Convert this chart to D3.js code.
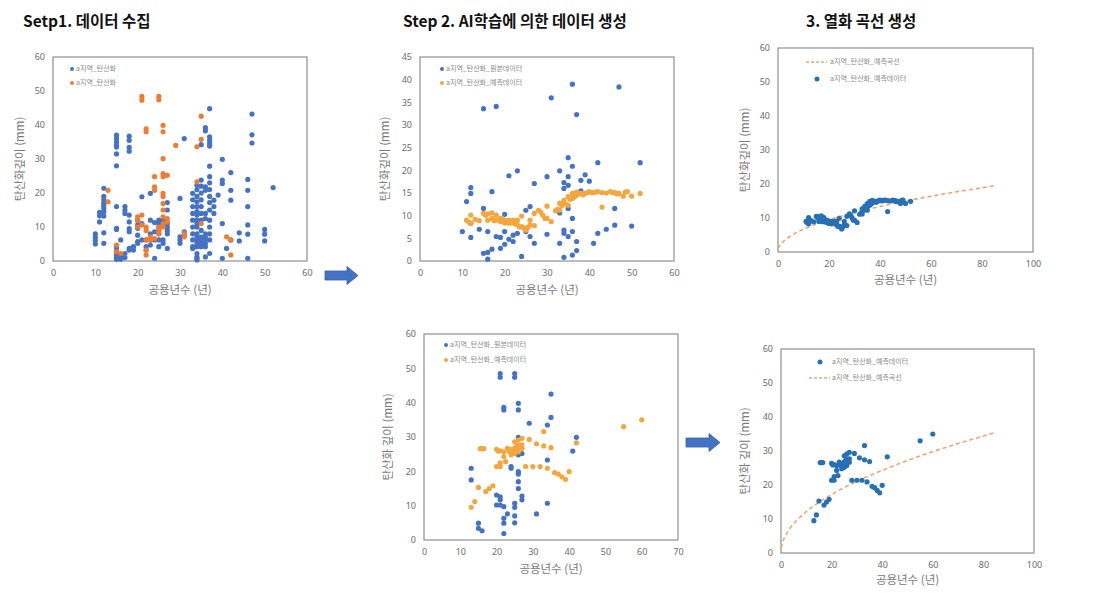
<!DOCTYPE html>
<html><head><meta charset="utf-8">
<script src="https://cdn.jsdelivr.net/npm/d3@7"></script>
<style>
body{margin:0;background:#fff;}
svg{display:block;font-family:"Noto Sans CJK KR","Noto Sans",sans-serif;}
</style></head>
<body><svg id="c" width="1098" height="593"></svg>
<script>
// ---------- DATA ----------
const titles = ["Setp1. 데이터 수집", "Step 2. AI학습에 의한 데이터 생성", "3. 열화 곡선 생성"];
const xLabel = "공용년수 (년)";
const yLabelA = "탄산화깊이 (mm)";
const yLabelB = "탄산화 깊이 (mm)";
const legend1 = ["a지역_탄산화", "a지역_탄산화"];
const legend2 = ["a지역_탄산화_원본데이터", "a지역_탄산화_예측데이터"];
const legend3 = ["a지역_탄산화_예측곡선", "a지역_탄산화_예측데이터"];

const ticks60 = [0,10,20,30,40,50,60];
const ticks45 = [0,5,10,15,20,25,30,35,40,45];
const ticks70 = [0,10,20,30,40,50,60,70];
const ticks100 = [0,20,40,60,80,100];

// Step 1 (grouped by age: [age, [depths...]])
const step1Blue = [
 [10,[8,7,6,5]],[11,[14.3,13.3,11.5]],[12,[21.4,19,18,17,16.2,15.5,14.5,13.2,8.3,5.2]],
 [15,[37,36,35,34,33.5,31.5,28,16,9.6,9.3,4,3,2,1.5,1,0.5]],[16,[6.2,2,1,0.5]],
 [17,[16,15,14,2.2,1]],[18,[36.7,35.5,33.4,32.3,13.5,11.5,9.5,8.6,3.7,3.2]],[19,[4.2,3.2]],
 [20,[12,10.6,9.6,7.6,5.7,5.2]],[21,[18.9,11,6.2]],[22,[6.2,4.2,3.2]],[23,[19.9,12,8,6.2,4.7]],
 [24,[11.3,8.6,6.2,0.8]],[25,[12,11,10,9,8,6.2,4.2]],[26,[12,11.5,6.2,5.2]],
 [27,[17.2,15,11,10,9,8,3.7]],[30,[18.4,7.1,6.2,5.2]],[31,[36,8.6,7.6]],
 [33,[19.9,18,16,14,12,10,8,6.2,4.2,3.7]],
 [34,[22.3,21,19,17.4,16,14.5,13.5,12,11,10,8,7,6.2,5.2,4.2,2.2,1.2,0.8,0.3]],
 [35,[34.2,23.8,22,20,18,16,14,12,9,7,6.2,5.7,5,4.2]],
 [36,[39.2,38.3,21.8,20.8,14,12.5,8,7,6.2,5.2,4.2,1.2]],
 [37,[44.8,36.5,35.5,34.5,33.8,27.9,24.8,23,21,19,17.2,15,12,10,8,6.2,2.2]],
 [38,[17.9,16,14]],[39,[19.4]],[40,[29.9,23.8,22.8,11,0.8]],[41,[3.7]],[42,[26,20.8,17.9,6.2]],
 [44,[8.3,5.9]],[46,[24,20.8,16,10.6,7.9,0.8]],[47,[43.2,37.1,34.7]],[50,[9.3,7.9,5.9]],[52,[21.6]]
];
const step1Orange = [
 [13,[20.8,17.4]],[15,[4.7,2.7]],[16,[2.2]],[20,[13,12,10]],[21,[48.4,47.3,13.5,10.6]],
 [22,[38.9,38,10,9,6.2,3.2,1.8]],[23,[7.1,6.2]],[24,[24.8,21.8,20.8,6.6]],[25,[48.4,47.4,10,9,8.1]],
 [26,[39.9,38,30.1,25.7,24.8,19.9,19,16.9,15,13,11,10]],[27,[25.2,12.5,11.5]],[29,[34]],
 [31,[8.1,7.1]],[34,[33.6,23.3]],[35,[42.6,35.8,11]],[41,[7.1]],[42,[6.2,1.8]]
];

// Step 2 top: original (blue) and predicted (orange) [age, depth]
const step2TopRaw = [
 [10,6.5],[11,13.1],[12,16.2],[12,14.9],[12,8.3],[12,5.2],[14,7],[15,33.6],[15,11.6],[15,1.7],
 [16,6.5],[16,1.9],[16,0.4],[17,15.3],[17,2.6],[18,34.1],[18,5.4],[19,5.2],[19,2.8],[20,10.3],
 [20,6.5],[20,3.7],[21,18.8],[21,4.8],[22,5.7],[22,4.3],[23,19.9],[23,6.1],[24,1],[25,11.2],
 [25,6.5],[26,12],[26,5.4],[27,17.1],[27,3.9],[30,18.6],[30,5.9],[31,36],[33,19.9],[33,10.6],
 [33,3.9],[34,17.3],[34,16],[34,6.8],[34,6.1],[34,0.8],[35,22.8],[35,18.6],[35,16.7],[35,11.6],
 [35,5.4],[36,39],[36,20.9],[36,9.4],[36,6.5],[36,1.3],[37,32.3],[37,4.3],[37,2.3],[38,17.8],
 [38,15.5],[39,19],[40,17.6],[41,3.9],[42,21.7],[42,6.1],[44,7],[46,11.6],[46,7.9],[47,38.4],
 [50,7.7],[52,21.7]
];
const step2TopPred = [
 [11,9],[11.5,8.6],[12,10.1],[12,8.3],[13,9.2],[14,8.9],[15,10.5],[15.5,10.1],[16,10.4],[16,9],
 [17,10.6],[17,9.4],[17.5,8.9],[18,10.1],[18,9],[19,9.4],[19,8.7],[19.5,9.2],[20,9],[20,8.4],
 [20.5,8.8],[21,9],[21,8.3],[21.5,8.6],[22,9],[22,8.4],[22.5,8.2],[23,8],[23,9],[23.5,7.5],
 [24,7.6],[24,9.9],[24.5,7.3],[25,7.2],[25,6.8],[25.5,7.4],[26,9],[26,8],[27,10.5],[27,7.8],
 [28,11.2],[28.5,10.8],[29,10.1],[29.5,9.4],[30,12.1],[30,9.4],[31,8.7],[32,11.1],[32.5,11.4],
 [33,11.2],[33,12.7],[33.5,12.2],[34,12.7],[34,13.4],[34.5,12.5],[35,12.3],[35,14.2],[35.5,13.6],
 [36,14.9],[36,13.8],[36.5,14.1],[37,14.5],[37,15.2],[37.5,14.8],[38,14.9],[38.5,14.6],[39,14.9],
 [39.5,15.1],[40,15.3],[40.5,15.1],[41,15.1],[41.5,15.2],[42,15.3],[43,15.1],[43,11.9],[44,15],
 [45,15.3],[45.5,15.1],[46,15.1],[46.5,14.8],[47,14.9],[48,14.3],[48.5,15.2],[49,15.3],[50,14.3],
 [52,14.9]
];

// Step 2 bottom: original (blue) and predicted (orange) [age, depth]
const step2BotRaw = [
 [13,20.9],[13,17.5],[15,4.9],[15,3.4],[16,2.7],[20,13.1],[20,10.2],[21,48.5],[21,47.4],[21,12.6],
 [21,11.7],[21,10.2],[22,38.6],[22,37.9],[22,9.7],[22,6.3],[22,4.9],[22,1.9],[23,7.6],[24,21.4],
 [24,20.9],[25,48.5],[25,47.4],[25,10.7],[25,9.5],[25,7],[25,5],[26,39.8],[26,37.9],[26,29.9],
 [26,24.8],[26,19.9],[26,19.2],[26,17],[26,15],[27,25.2],[27,12.8],[27,11.7],[29,34],[31,7.6],
 [34,33.5],[34,23.3],[34,10.7],[35,42.5],[35,35.7],[41,25.9],[42,29.9]
];
const step2BotPred = [
 [13,9.5],[14,11.2],[15,15.3],[15.5,26.6],[16,26.6],[16.5,26.6],[17,14.1],[18,15],[19,15.8],
 [20,26.4],[20,21.4],[20.5,25.9],[21,26],[21,22.5],[21,21.4],[22,24.3],[22,25.7],[22.5,22.8],
 [23,26.7],[23.5,25.8],[24,24.8],[24,26.3],[24.5,25.4],[25,28.6],[25,26.8],[25,25.7],[25,25.2],
 [25.5,27.2],[26,29.1],[26,27.6],[26,26.7],[26,25.7],[27,27.7],[27,26.7],[27,29.6],[28,21.4],
 [29,29.3],[30,21.4],[31,28],[32,21.4],[33,31.6],[33,27.4],[34,20.9],[35,26.9],[36,19.6],
 [37,19.2],[38,18.4],[39,17.7],[40,19.9],[42,28.3],[55,33],[60,35]
];

// Fitted deterioration curves [age, depth]
const curveTop = [[0,1],[0.5,1.6],[1,2.1],[2,3],[4,4.2],[6,5.2],[10,6.7],[15,8.2],[20,9.5],[30,11.6],
 [40,13.4],[50,15],[60,16.4],[70,17.7],[80,18.9],[85,19.5]];
const curveBot = [[0,1.5],[0.5,2.7],[1,3.9],[2,5.4],[4,7.7],[6,9.4],[10,12.2],[15,14.9],[20,17.2],
 [30,21.1],[40,24.3],[50,27.2],[60,29.8],[70,32.2],[80,34.4],[85,35.5]];

// ---------- STYLE ----------
const BLUE = "#4472C4", ORANGE = "#ED7D31", GOLD = "#F4A63C", DBLUE = "#2870B5", CURVE = "#F2A36B";
const flat = g => g.flatMap(([x, ys]) => ys.map(y => [x, y]));

const svg = d3.select("#c");
svg.append("rect").attr("width",1098).attr("height",593).attr("fill","#fff");

// titles
const titlePos = [[23,27],[403,27],[806,27]];
titles.forEach((t,i)=>{
  svg.append("text").attr("x",titlePos[i][0]).attr("y",titlePos[i][1])
    .attr("font-size",15.5).attr("font-weight","bold").attr("fill","#111").text(t);
});

function panel(cfg){
  const x = d3.scaleLinear().domain(cfg.xd).range([cfg.l, cfg.r]);
  const y = d3.scaleLinear().domain(cfg.yd).range([cfg.b, cfg.t]);
  const g = svg.append("g");
  g.append("rect").attr("x",cfg.l).attr("y",cfg.t).attr("width",cfg.r-cfg.l).attr("height",cfg.b-cfg.t)
    .attr("fill","none").attr("stroke","#8f8f8f").attr("stroke-width",1.2);
  const ax = g.append("g").attr("transform",`translate(0,${cfg.b})`)
    .call(d3.axisBottom(x).tickValues(cfg.xt).tickSize(0).tickPadding(9));
  const ay = g.append("g").attr("transform",`translate(${cfg.l},0)`)
    .call(d3.axisLeft(y).tickValues(cfg.yt).tickSize(0).tickPadding(8));
  [ax,ay].forEach(a=>{
    a.select(".domain").remove();
    a.selectAll("text").attr("font-size",9).attr("fill","#6b6b6b")
     .attr("font-family","'Noto Sans', sans-serif");
  });
  g.append("text").attr("x",(cfg.l+cfg.r)/2).attr("y",cfg.b+cfg.xlOff).attr("text-anchor","middle")
    .attr("font-size",11.5).attr("fill","#7a7a7a").text(xLabel);
  g.append("text").attr("transform",`translate(${cfg.ylx},${(cfg.t+cfg.b)/2}) rotate(-90)`)
    .attr("text-anchor","middle").attr("dominant-baseline","middle")
    .attr("font-size",11.5).attr("fill","#7a7a7a").text(cfg.ylab);
  if(cfg.curve){
    g.append("path").datum(cfg.curve.data)
      .attr("d", d3.line().x(d=>x(d[0])).y(d=>y(d[1])).curve(d3.curveMonotoneX))
      .attr("fill","none").attr("stroke",CURVE).attr("stroke-width",1.6).attr("stroke-dasharray","4,3");
  }
  cfg.series.forEach(s=>{
    g.append("g").selectAll("circle").data(s.data).join("circle")
      .attr("cx",d=>x(d[0])).attr("cy",d=>y(d[1])).attr("r",2.6).attr("fill",s.color);
  });
  // legend
  cfg.legend.forEach(it=>{
    const lx = cfg.l + it.dx, ly = cfg.t + it.dy;
    if(it.type==="dot"){
      g.append("circle").attr("cx",lx).attr("cy",ly).attr("r",it.r||2).attr("fill",it.color);
    } else {
      g.append("line").attr("x1",lx-11).attr("x2",lx+10).attr("y1",ly).attr("y2",ly)
        .attr("stroke",CURVE).attr("stroke-width",1.4).attr("stroke-dasharray","3,2");
    }
    g.append("text").attr("x",cfg.l+it.tx).attr("y",ly).attr("dominant-baseline","middle")
      .attr("font-size",7).attr("fill","#8a8a8a").text(it.text);
  });
}

panel({l:53,r:307,t:57,b:261,xd:[0,60],yd:[0,60],xt:ticks60,yt:ticks60,xlOff:33,ylx:21,ylab:yLabelA,
  series:[{data:flat(step1Blue),color:BLUE},{data:flat(step1Orange),color:ORANGE}],
  legend:[{type:"dot",dx:19,dy:12,tx:23,color:BLUE,text:legend1[0]},
          {type:"dot",dx:19,dy:26,tx:23,color:ORANGE,text:legend1[1]}]});

panel({l:420,r:674,t:57,b:261,xd:[0,60],yd:[0,45],xt:ticks60,yt:ticks45,xlOff:33,ylx:386,ylab:yLabelA,
  series:[{data:step2TopRaw,color:BLUE},{data:step2TopPred,color:GOLD}],
  legend:[{type:"dot",dx:22,dy:12,tx:26,color:BLUE,text:legend2[0]},
          {type:"dot",dx:22,dy:26,tx:26,color:GOLD,text:legend2[1]}]});

panel({l:778,r:1033,t:48,b:252,xd:[0,100],yd:[0,60],xt:ticks100,yt:ticks60,xlOff:32,ylx:746,ylab:yLabelA,
  curve:{data:curveTop},
  series:[{data:step2TopPred,color:DBLUE}],
  legend:[{type:"line",dx:39,dy:14,tx:52,text:legend3[0]},
          {type:"dot",dx:39,dy:31,tx:52,r:2.5,color:DBLUE,text:legend3[1]}]});

panel({l:424,r:678,t:334,b:540,xd:[0,70],yd:[0,60],xt:ticks70,yt:ticks60,xlOff:33,ylx:389,ylab:yLabelB,
  series:[{data:step2BotRaw,color:BLUE},{data:step2BotPred,color:GOLD}],
  legend:[{type:"dot",dx:22,dy:11,tx:26,color:BLUE,text:legend2[0]},
          {type:"dot",dx:22,dy:26,tx:26,color:GOLD,text:legend2[1]}]});

panel({l:781,r:1034,t:349,b:553,xd:[0,100],yd:[0,60],xt:ticks100,yt:ticks60,xlOff:31,ylx:746,ylab:yLabelB,
  curve:{data:curveBot},
  series:[{data:step2BotPred,color:DBLUE}],
  legend:[{type:"dot",dx:39,dy:13,tx:51,r:2.5,color:DBLUE,text:legend3[1]},
          {type:"line",dx:39,dy:29,tx:51,text:legend3[0]}]});

// arrows
function arrow(x0,cy,len){
  const sh=4.5, hh=9, hl=11;
  const p=[[x0,cy-sh],[x0+len-hl,cy-sh],[x0+len-hl,cy-hh],[x0+len,cy],[x0+len-hl,cy+hh],[x0+len-hl,cy+sh],[x0,cy+sh]];
  svg.append("path").attr("d","M"+p.map(d=>d.join(",")).join("L")+"Z")
    .attr("fill","#4472C4").attr("stroke","#3560AE").attr("stroke-width",0.8);
}
arrow(325,275.5,33);
arrow(686,442.5,34);
</script></body></html>
